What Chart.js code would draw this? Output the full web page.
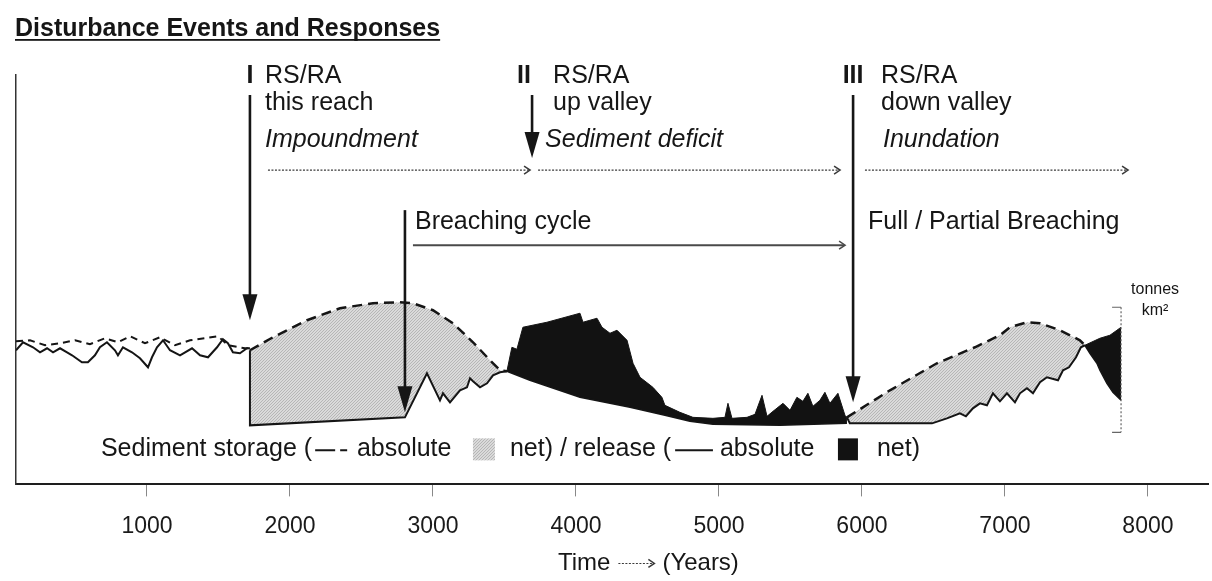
<!DOCTYPE html>
<html>
<head>
<meta charset="utf-8">
<title>Disturbance Events and Responses</title>
<script src="https://cdn.jsdelivr.net/npm/chart.js@4.4.1/dist/chart.umd.min.js"></script>
<style>
  html, body { margin: 0; padding: 0; background: #fff; }
  #chart { display: block; }
</style>
</head>
<body>
<canvas id="chart" width="1212" height="581"></canvas>
<script>
const FONT = "'Liberation Sans', Arial, Helvetica, sans-serif";
const heading = "Disturbance Events and Responses";

// time axis (years)
const xMin = 84;
const xMax = 8420;
const tickYears = [1000, 2000, 3000, 4000, 5000, 6000, 7000, 8000];

// sediment level (relative units)
const yMin = 0;
const yMax = 409;

// before the first event: both curves fluctuate
const preReleaseYears = [84, 133, 203, 252, 301, 343, 392, 441, 476, 545, 587, 636, 671, 720, 776, 797, 832, 895, 951, 1007, 1035, 1070, 1112, 1161, 1231, 1315, 1371, 1427, 1490, 1531, 1566, 1601, 1650, 1699, 1720];
const preReleaseValues = [134, 142, 137, 132, 136, 132, 136, 132, 129, 122, 122, 129, 137, 142, 134, 129, 137, 132, 126, 117, 127, 137, 144, 134, 129, 136, 129, 127, 137, 145, 141, 132, 131, 136, 136];
const preStorageYears = [84, 182, 287, 392, 497, 601, 706, 797, 881, 986, 1091, 1196, 1301, 1406, 1497, 1566, 1685, 1720];
const preStorageValues = [143, 144, 139, 141, 144, 140, 146, 142, 148, 141, 147, 139, 144, 146, 148, 139, 136, 136];

// impoundment: storage (dashed top) over release (solid base)
const storage1TopYears = [1720, 1881, 2119, 2350, 2580, 2769, 2860, 3000, 3140, 3280, 3399, 3469, 3517];
const storage1TopValues = [134, 147, 164, 176, 181, 182, 181, 174, 161, 142, 124, 114, 113];
const storage1BaseYears = [1720, 1720, 2804, 2958, 3049, 3070, 3119, 3189, 3238, 3259, 3280, 3329, 3378, 3420, 3469, 3517];
const storage1BaseValues = [134, 59, 67, 111, 84, 91, 82, 94, 97, 106, 103, 97, 101, 109, 112, 113];

// sediment deficit: net release
const release1TopYears = [3517, 3552, 3587, 3629, 3797, 4028, 4049, 4098, 4147, 4182, 4238, 4287, 4357, 4399, 4448, 4538, 4601, 4622, 4727, 4818, 4958, 5042, 5063, 5091, 5196, 5252, 5301, 5336, 5378, 5448, 5497, 5545, 5587, 5622, 5657, 5706, 5741, 5776, 5832, 5881, 5895];
const release1TopValues = [113, 137, 135, 157, 162, 171, 162, 164, 166, 157, 151, 154, 144, 121, 107, 97, 87, 79, 72, 67, 66, 67, 81, 66, 67, 70, 89, 68, 73, 81, 74, 87, 83, 91, 78, 84, 92, 81, 91, 69, 67];
const release1BaseYears = [3517, 3678, 4028, 4378, 4622, 4797, 4958, 5427, 5895];
const release1BaseValues = [113, 104, 87, 77, 69, 63, 60, 59, 61];

// inundation: storage again
const storage2TopYears = [5895, 6196, 6524, 6790, 6965, 7035, 7154, 7245, 7385, 7524, 7559];
const storage2TopValues = [67, 94, 121, 137, 149, 157, 162, 161, 154, 144, 139];
const storage2BaseYears = [5895, 5915, 6490, 6594, 6685, 6727, 6776, 6825, 6874, 6916, 6965, 7014, 7070, 7105, 7154, 7196, 7245, 7294, 7371, 7406, 7448, 7497, 7531, 7559];
const storage2BaseValues = [67, 61, 61, 66, 71, 68, 76, 81, 79, 91, 83, 91, 82, 91, 96, 91, 102, 107, 104, 114, 117, 127, 137, 139];

// breaching: release again
const release2TopYears = [7559, 7664, 7734, 7783, 7812];
const release2TopValues = [139, 146, 149, 154, 157];
const release2BaseYears = [7559, 7594, 7643, 7664, 7713, 7755, 7812];
const release2BaseValues = [139, 131, 121, 114, 101, 92, 84];

// disturbance events
const eventYears = [1720, 3693, 5938];
const eventNumerals = ["I", "II", "III"];
const eventTitles = ["RS/RA", "RS/RA", "RS/RA"];
const eventPlaces = ["this reach", "up valley", "down valley"];
const eventPhases = ["Impoundment", "Sediment deficit", "Inundation"];
const eventArrowTips = [164, 326, 82];
const breachYear = 2804;
const breachTip = 72;
const breachLabels = ["Breaching cycle", "Full / Partial Breaching"];

// scale bar on the right
const scaleBarYear = 7812;
const scaleBarRange = [52, 177];
const unitLabels = ["tonnes", "km\u00B2"];

const toPoints = (xs, ys) => xs.map((x, i) => ({ x: x, y: ys[i] }));
const toPolygon = (topX, topY, baseX, baseY) =>
    toPoints(topX, topY).concat(toPoints(baseX, baseY).reverse());

const canvas = document.getElementById("chart");
const ctx2d = canvas.getContext("2d");

// stippled grey like the printed figure
function makeStoragePattern() {
    const tile = document.createElement("canvas");
    tile.width = 3;
    tile.height = 3;
    const t = tile.getContext("2d");
    t.fillStyle = "#dadada";
    t.fillRect(0, 0, 3, 3);
    t.fillStyle = "#b6b6b6";
    for (let i = 0; i < 3; i++) t.fillRect(i, 2 - i, 1, 1);
    return ctx2d.createPattern(tile, "repeat");
}
const storageFill = makeStoragePattern();
const releaseFill = "#121212";

function area(points, color) {
    return { data: points, backgroundColor: color, borderWidth: 0, fill: "shape", pointRadius: 0, order: 3 };
}
function outline(points, width, dash) {
    return { data: points, borderColor: "#151515", borderWidth: width, borderDash: dash || [], fill: false, pointRadius: 0, order: 1 };
}

const datasets = [
    area(toPolygon(storage1TopYears, storage1TopValues, storage1BaseYears, storage1BaseValues), storageFill),
    area(toPolygon(storage2TopYears, storage2TopValues, storage2BaseYears, storage2BaseValues), storageFill),
    area(toPolygon(release1TopYears, release1TopValues, release1BaseYears, release1BaseValues), releaseFill),
    area(toPolygon(release2TopYears, release2TopValues, release2BaseYears, release2BaseValues), releaseFill),
    outline(toPoints(preReleaseYears, preReleaseValues), 2),
    outline(toPoints(preStorageYears, preStorageValues), 2, [7, 5]),
    outline(toPoints(storage1TopYears, storage1TopValues), 2.5, [10, 6]),
    outline(toPoints(storage1BaseYears, storage1BaseValues), 2),
    outline(toPoints(storage2TopYears, storage2TopValues), 2.5, [10, 6]),
    outline(toPoints(storage2BaseYears, storage2BaseValues), 2),
    outline(toPoints(release1TopYears, release1TopValues), 1),
    outline(toPoints(release1BaseYears, release1BaseValues), 1.5),
    outline(toPoints(release2TopYears, release2TopValues), 1),
    outline(toPoints(release2BaseYears, release2BaseValues), 1.5)
];

function downArrow(ctx, px, top, tip) {
    ctx.lineWidth = 2.6;
    ctx.beginPath();
    ctx.moveTo(px, top);
    ctx.lineTo(px, tip - 20);
    ctx.stroke();
    ctx.beginPath();
    ctx.moveTo(px - 7.5, tip - 26);
    ctx.lineTo(px + 7.5, tip - 26);
    ctx.lineTo(px, tip);
    ctx.closePath();
    ctx.fill();
}

function sideArrow(ctx, x1, x2, py, width, dash, color) {
    ctx.save();
    ctx.strokeStyle = color;
    ctx.lineWidth = width;
    ctx.setLineDash(dash);
    ctx.beginPath();
    ctx.moveTo(x1, py);
    ctx.lineTo(x2 - 1, py);
    ctx.stroke();
    ctx.setLineDash([]);
    ctx.lineWidth = 1.5;
    ctx.beginPath();
    ctx.moveTo(x2 - 6, py - 4);
    ctx.lineTo(x2, py);
    ctx.lineTo(x2 - 6, py + 4);
    ctx.stroke();
    ctx.restore();
}

const annotations = {
    id: "annotations",
    afterDraw(chart) {
        const { ctx, scales: { x, y } } = chart;
        const X = v => x.getPixelForValue(v);
        const Y = v => y.getPixelForValue(v);
        const ink = "#161616";
        // rows in y units (above the plot they extrapolate)
        const rows = { title: 408, place: 381, phase: 344, phaseArrow: 314, breach: 262, breachArrow: 239, legend: 35, axisTitle: -79 };
        const textX = [1825, 3840, 6133];
        const numeralShift = [0, -8, 0];
        const phaseX = [1825, 3784, 6147];
        const phaseArrows = [[1846, 3679], [3735, 5847], [6021, 7861]];

        ctx.save();
        ctx.fillStyle = ink;
        ctx.strokeStyle = ink;

        // heading, underlined
        ctx.font = "bold 25px " + FONT;
        ctx.textAlign = "left";
        ctx.textBaseline = "alphabetic";
        ctx.fillText(heading, 15, 36);
        ctx.fillRect(15, 39, ctx.measureText(heading).width, 1.8);

        ctx.textBaseline = "middle";
        eventYears.forEach((yr, i) => {
            const px = X(yr);
            ctx.textAlign = "center";
            ctx.font = "bold 25px " + FONT;
            ctx.fillText(eventNumerals[i], px + numeralShift[i], Y(rows.title));
            ctx.textAlign = "left";
            ctx.font = "25px " + FONT;
            ctx.fillText(eventTitles[i], X(textX[i]), Y(rows.title));
            ctx.fillText(eventPlaces[i], X(textX[i]), Y(rows.place));
            ctx.font = "italic 25px " + FONT;
            ctx.fillText(eventPhases[i], X(phaseX[i]), Y(rows.phase));
            sideArrow(ctx, X(phaseArrows[i][0]), X(phaseArrows[i][1]), Y(rows.phaseArrow), 1.2, [2, 1.5], "#3a3a3a");
            downArrow(ctx, px, Y(389), Y(eventArrowTips[i]));
        });

        // breaching
        ctx.font = "25px " + FONT;
        ctx.textAlign = "left";
        ctx.fillText(breachLabels[0], X(2874), Y(rows.breach));
        ctx.fillText(breachLabels[1], X(6042), Y(rows.breach));
        sideArrow(ctx, X(2860), X(5882), Y(rows.breachArrow), 2, [], "#4a4a4a");
        downArrow(ctx, X(breachYear), Y(274), Y(breachTip));

        // scale bar and units
        const sx = X(scaleBarYear);
        ctx.save();
        ctx.strokeStyle = "#666";
        ctx.lineWidth = 1.2;
        ctx.setLineDash([2, 2]);
        ctx.beginPath();
        ctx.moveTo(sx, Y(scaleBarRange[1]));
        ctx.lineTo(sx, Y(scaleBarRange[0]));
        ctx.stroke();
        ctx.setLineDash([]);
        ctx.beginPath();
        ctx.moveTo(sx - 9, Y(scaleBarRange[1]));
        ctx.lineTo(sx, Y(scaleBarRange[1]));
        ctx.moveTo(sx - 9, Y(scaleBarRange[0]));
        ctx.lineTo(sx, Y(scaleBarRange[0]));
        ctx.stroke();
        ctx.restore();
        ctx.font = "16px " + FONT;
        ctx.textAlign = "center";
        ctx.fillText(unitLabels[0], X(8050), Y(195));
        ctx.fillText(unitLabels[1], X(8050), Y(174));

        // legend line under the curves
        ctx.font = "25px " + FONT;
        ctx.textAlign = "left";
        const ly = Y(rows.legend);
        const lx = X(678);
        const part1 = "Sediment storage (";
        const part2 = "net) / release (";
        ctx.fillText(part1, lx, ly);
        ctx.lineWidth = 2;
        let d = lx + ctx.measureText(part1).width + 3;
        ctx.beginPath();
        ctx.moveTo(d, ly + 1); ctx.lineTo(d + 20, ly + 1);
        ctx.moveTo(d + 25, ly + 1); ctx.lineTo(d + 32, ly + 1);
        ctx.stroke();
        ctx.fillText("absolute", lx + 256, ly);
        ctx.fillStyle = storageFill;
        ctx.fillRect(lx + 372, ly - 11, 22, 22);
        ctx.fillStyle = ink;
        ctx.fillText(part2, lx + 409, ly);
        d = lx + 409 + ctx.measureText(part2).width + 4;
        ctx.beginPath();
        ctx.moveTo(d, ly + 1); ctx.lineTo(lx + 612, ly + 1);
        ctx.stroke();
        ctx.fillText("absolute", lx + 619, ly);
        ctx.fillStyle = releaseFill;
        ctx.fillRect(lx + 737, ly - 11, 20, 22);
        ctx.fillStyle = ink;
        ctx.fillText("net)", lx + 776, ly);

        // axis title with a dotted arrow
        const ty = Y(rows.axisTitle);
        let tx = X(3874);
        ctx.font = "24px " + FONT;
        ctx.fillText("Time", tx, ty);
        tx += ctx.measureText("Time").width + 8;
        sideArrow(ctx, tx, tx + 36, ty, 1.2, [2, 1.5], "#3a3a3a");
        ctx.fillText("(Years)", tx + 44, ty);

        ctx.restore();
    }
};

new Chart(canvas, {
    type: "line",
    data: { datasets: datasets },
    options: {
        responsive: false,
        animation: false,
        layout: { padding: { left: 16, right: 4, top: 75, bottom: 25 } },
        elements: { line: { tension: 0 }, point: { radius: 0 } },
        plugins: {
            legend: { display: false },
            tooltip: { enabled: false },
            title: { display: false }
        },
        scales: {
            x: {
                type: "linear",
                min: xMin,
                max: xMax,
                afterBuildTicks: axis => { axis.ticks = tickYears.map(v => ({ value: v })); },
                grid: { display: true, drawOnChartArea: false, drawTicks: true, tickLength: 12, color: "#888", lineWidth: 1 },
                border: { display: true, color: "#1e1e1e", width: 2 },
                ticks: {
                    color: "#1a1a1a",
                    font: { family: FONT, size: 23 },
                    padding: 16,
                    maxRotation: 0,
                    autoSkip: false,
                    callback: v => String(v)
                }
            },
            y: {
                min: yMin,
                max: yMax,
                ticks: { display: false },
                grid: { display: false, drawTicks: false },
                border: { display: true, color: "#333", width: 1.5 }
            }
        }
    },
    plugins: [annotations]
});
</script>
</body>
</html>
